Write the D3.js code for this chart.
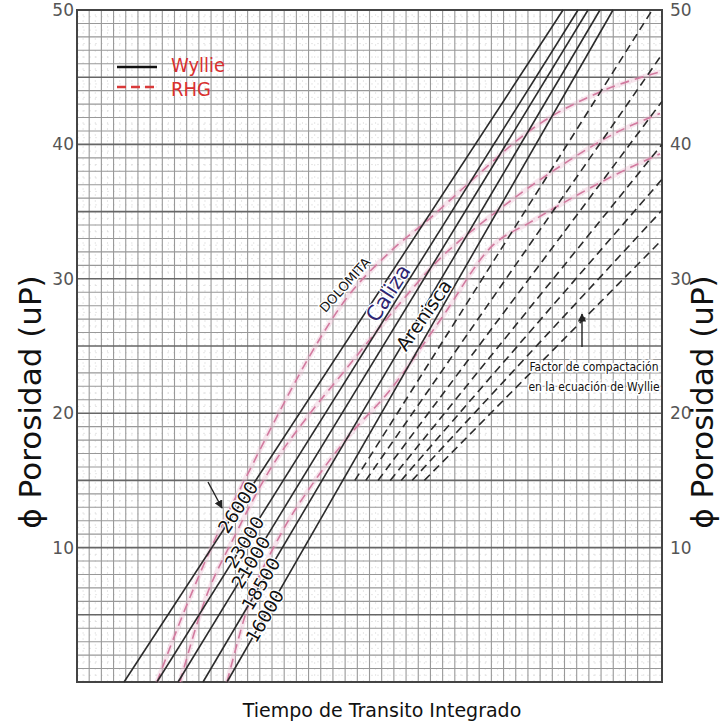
<!DOCTYPE html>
<html>
<head>
<meta charset="utf-8">
<script src="https://cdn.jsdelivr.net/npm/d3@7"></script>
<style>
  body { margin: 0; background: #fff; }
  svg { display: block; }
</style>
</head>
<body>
<svg></svg>
<script>
// x in grid columns (no numeric ticks on the original), y = porosity
const phiTicks = [10, 20, 30, 40, 50];

// Wyllie lines: x at phi=0 and at phi=50
const wyllieLabels = ['26000', '23000', '21000', '18500', '16000'];
const wyllieX0 = [3.86, 6.56, 8.29, 10.34, 12.31];
const wyllieX50 = [39.88, 41.11, 41.93, 42.91, 43.98];
// label position along each line (phi)
const wyllieLabelPhi = [13.0, 10.4, 8.9, 7.3, 4.9];

// compaction factor lines (dashed), start at phi=15
const compStartX = [22.8, 23.7, 24.7, 25.7, 26.6, 27.5, 28.5];
const compEndX = [47.2, 48, 48, 48, 48, 48, 48];
const compEndPhi = [50, 46.7, 43.2, 40.0, 37.4, 35.1, 32.9];

// RHG curves [x, phi]
const rhgDolomita = [[6.56,0],[8.86,5.4],[11.32,10.6],[14.19,15.8],[16.66,20.2],[19.12,24.3],[21.99,28.4],[25.68,32.0],[28.96,34.5],[32.0,37.0],[37.42,41.2],[42.91,43.9],[47.84,45.4]];
const rhgCaliza = [[8.45,0],[10.50,6.1],[12.96,10.9],[15.83,15.8],[18.71,19.5],[22.0,23.2],[25.68,27.3],[29.78,31.5],[34.13,34.8],[40.2,38.7],[44.3,40.9],[47.84,42.3]];
const rhgArenisca = [[12.31,0],[14.2,6.1],[16.66,10.9],[19.53,15.0],[22.4,18.4],[25.68,21.7],[29.78,26.9],[34.13,32.5],[37.17,34.2],[40.2,35.8],[44.3,37.8],[47.84,39.3]];
const rhgCurves = [rhgDolomita, rhgCaliza, rhgArenisca];

const width = 725, height = 725;
const margin = {top: 10, right: 63, bottom: 43, left: 77};

const svg = d3.select('svg')
  .attr('width', width)
  .attr('height', height);

const x = d3.scaleLinear().domain([0, 48]).range([margin.left, width - margin.right]);
const y = d3.scaleLinear().domain([0, 50]).range([height - margin.bottom, margin.top]);

const grid = svg.append('g');

// faint half-step lines
grid.selectAll('.hx').data(d3.range(0.5, 48, 1)).enter().append('line')
  .attr('x1', d => x(d)).attr('x2', d => x(d))
  .attr('y1', y(0)).attr('y2', y(50))
  .attr('stroke', '#dcdcdc').attr('stroke-width', 0.7).attr('stroke-dasharray', '2,4');
grid.selectAll('.hy').data(d3.range(0.5, 50, 1)).enter().append('line')
  .attr('x1', x(0)).attr('x2', x(48))
  .attr('y1', d => y(d)).attr('y2', d => y(d))
  .attr('stroke', '#dcdcdc').attr('stroke-width', 0.7).attr('stroke-dasharray', '2,4');

// minor grid
grid.selectAll('.vx').data(d3.range(1, 48)).enter().append('line')
  .attr('x1', d => x(d)).attr('x2', d => x(d))
  .attr('y1', y(0)).attr('y2', y(50))
  .attr('stroke', '#999').attr('stroke-width', 1.1);
grid.selectAll('.vy').data(d3.range(1, 50)).enter().append('line')
  .attr('x1', x(0)).attr('x2', x(48))
  .attr('y1', d => y(d)).attr('y2', d => y(d))
  .attr('stroke', d => d % 5 === 0 ? '#666' : '#999')
  .attr('stroke-width', d => d % 5 === 0 ? 1.6 : 1.1);

grid.append('rect')
  .attr('x', x(0)).attr('y', y(50))
  .attr('width', x(48) - x(0)).attr('height', y(0) - y(50))
  .attr('fill', 'none').attr('stroke', '#444').attr('stroke-width', 2);

// tick labels both sides
svg.append('g').selectAll('text').data(phiTicks).enter().append('text')
  .attr('x', x(0) - 3).attr('y', d => y(d) + 6)
  .attr('text-anchor', 'end')
  .attr('font-family', 'DejaVu Sans, sans-serif').attr('font-size', 17)
  .attr('fill', '#555').text(d => d);
svg.append('g').selectAll('text').data(phiTicks).enter().append('text')
  .attr('x', x(48) + 8).attr('y', d => y(d) + 6)
  .attr('font-family', 'DejaVu Sans, sans-serif').attr('font-size', 17)
  .attr('fill', '#555').text(d => d);

const line = d3.line().x(d => x(d[0])).y(d => y(d[1]));
const curve = d3.line().x(d => x(d[0])).y(d => y(d[1])).curve(d3.curveMonotoneX);

// RHG curves (pink, dashed, with soft band)
const rhg = svg.append('g');
rhgCurves.forEach(c => {
  rhg.append('path').attr('d', curve(c))
    .attr('fill', 'none').attr('stroke', '#eab8cd').attr('stroke-width', 5).attr('opacity', 0.35);
  rhg.append('path').attr('d', curve(c))
    .attr('fill', 'none').attr('stroke', '#d27a9f').attr('stroke-width', 1.6)
    .attr('stroke-dasharray', '9,6');
});

// Wyllie solid lines
const wy = svg.append('g');
wyllieX0.forEach((x0, i) => {
  wy.append('path').attr('d', line([[x0, 0], [wyllieX50[i], 50]]))
    .attr('fill', 'none').attr('stroke', '#2b2b2b').attr('stroke-width', 1.6);
});

// compaction dashed lines
compStartX.forEach((sx, i) => {
  wy.append('path').attr('d', line([[sx, 15], [compEndX[i], compEndPhi[i]]]))
    .attr('fill', 'none').attr('stroke', '#2b2b2b').attr('stroke-width', 1.6)
    .attr('stroke-dasharray', '8,5');
});

// labels on Wyllie lines
wyllieLabels.forEach((lab, i) => {
  const p = wyllieLabelPhi[i];
  const lx = wyllieX0[i] + (wyllieX50[i] - wyllieX0[i]) * p / 50;
  const ang = Math.atan2(y(50) - y(0), x(wyllieX50[i]) - x(wyllieX0[i])) * 180 / Math.PI;
  svg.append('text')
    .attr('transform', `translate(${x(lx)},${y(p)}) rotate(${ang})`)
    .attr('text-anchor', 'middle').attr('dy', '0.35em')
    .attr('font-family', 'DejaVu Sans, sans-serif').attr('font-size', 18)
    .attr('fill', '#111')
    .attr('stroke', '#fff').attr('stroke-width', 2.5).attr('paint-order', 'stroke')
    .text(lab);
});

// arrow to 26000
const defs = svg.append('defs');
defs.append('marker').attr('id', 'ah').attr('viewBox', '0 0 10 10')
  .attr('refX', 9).attr('refY', 5).attr('markerWidth', 6).attr('markerHeight', 6)
  .attr('orient', 'auto')
  .append('path').attr('d', 'M0,0L10,5L0,10z').attr('fill', '#222');
svg.append('line').attr('x1', 208).attr('y1', 482).attr('x2', 222).attr('y2', 508)
  .attr('stroke', '#222').attr('stroke-width', 1.4).attr('marker-end', 'url(#ah)');

// rock labels
const rockLabels = [
  {t: 'DOLOMITA', cx: 345, cy: 285, a: -48, s: 13, c: '#111'},
  {t: 'Caliza', cx: 388, cy: 293, a: -57, s: 21, c: '#2e2672'},
  {t: 'Arenisca', cx: 424, cy: 315, a: -55, s: 19, c: '#111'}
];
svg.append('g').selectAll('text').data(rockLabels).enter().append('text')
  .attr('transform', d => `translate(${d.cx},${d.cy}) rotate(${d.a})`)
  .attr('text-anchor', 'middle').attr('dy', '0.35em')
  .attr('font-family', 'DejaVu Sans, sans-serif')
  .attr('font-size', d => d.s).attr('fill', d => d.c)
  .attr('stroke', '#fff').attr('stroke-width', 2.5).attr('paint-order', 'stroke')
  .text(d => d.t);

// compaction note
const note = svg.append('g').attr('font-family', 'Liberation Sans Narrow, DejaVu Sans Condensed, sans-serif')
  .attr('font-size', 12).attr('fill', '#111').attr('text-anchor', 'middle');
note.append('text').attr('x', 594).attr('y', 371).text('Factor de compactación')
  .attr('stroke', '#fff').attr('stroke-width', 3).attr('paint-order', 'stroke');
note.append('text').attr('x', 594).attr('y', 391).text('en la ecuación de Wyllie')
  .attr('stroke', '#fff').attr('stroke-width', 3).attr('paint-order', 'stroke');
svg.append('line').attr('x1', 582).attr('y1', 347).attr('x2', 582).attr('y2', 314)
  .attr('stroke', '#222').attr('stroke-width', 1.4).attr('marker-end', 'url(#ah)');

// legend
const leg = svg.append('g');
leg.append('line').attr('x1', 117).attr('x2', 157).attr('y1', 67).attr('y2', 67)
  .attr('stroke', '#111').attr('stroke-width', 2.5);
leg.append('line').attr('x1', 117).attr('x2', 157).attr('y1', 87).attr('y2', 87)
  .attr('stroke', '#d93a3a').attr('stroke-width', 2.5).attr('stroke-dasharray', '9,5');
leg.append('text').attr('x', 171).attr('y', 72).text('Wyllie')
  .attr('font-family', 'DejaVu Sans Condensed, sans-serif').attr('font-size', 20).attr('fill', '#d93030');
leg.append('text').attr('x', 171).attr('y', 96).text('RHG')
  .attr('font-family', 'DejaVu Sans Condensed, sans-serif').attr('font-size', 20).attr('fill', '#d93030');

// axis titles
const yTitle = 'ϕ Porosidad (uP)';
svg.append('text').attr('transform', 'translate(41,402) rotate(-90)')
  .attr('text-anchor', 'middle')
  .attr('font-family', 'DejaVu Sans, sans-serif').attr('font-size', 31).attr('fill', '#111')
  .text(yTitle);
svg.append('text').attr('transform', 'translate(713,402) rotate(-90)')
  .attr('text-anchor', 'middle')
  .attr('font-family', 'DejaVu Sans, sans-serif').attr('font-size', 31).attr('fill', '#111')
  .text(yTitle);
svg.append('text').attr('x', 382).attr('y', 717)
  .attr('text-anchor', 'middle')
  .attr('font-family', 'DejaVu Sans, sans-serif').attr('font-size', 19).attr('fill', '#111')
  .text('Tiempo de Transito Integrado');
</script>
</body>
</html>
